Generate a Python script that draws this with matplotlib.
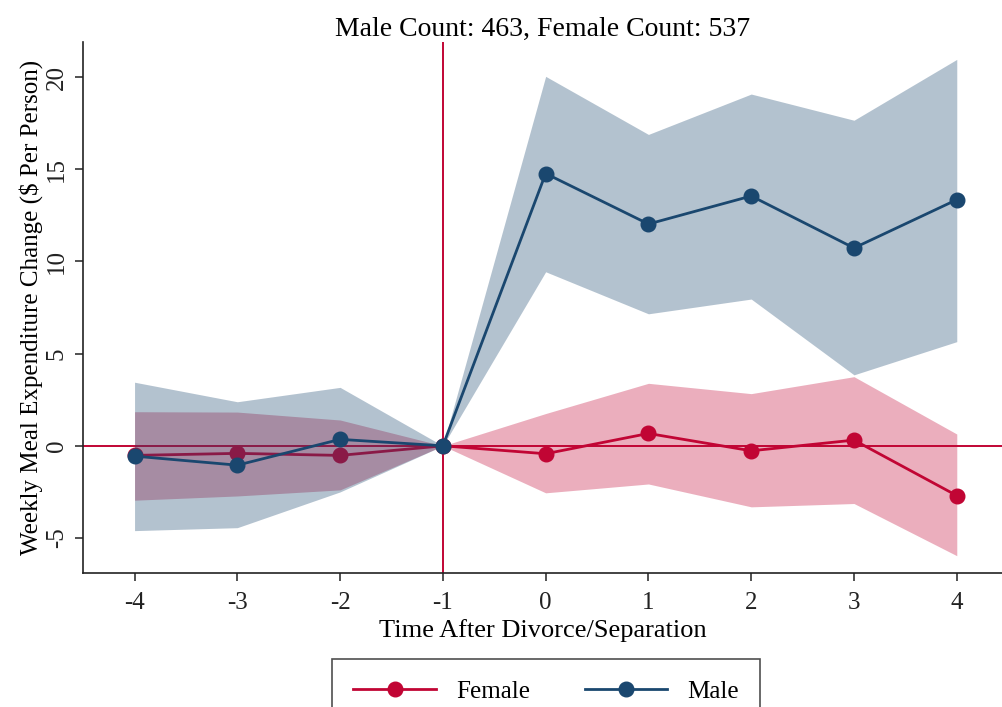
import numpy as np
import matplotlib.pyplot as plt

plt.rcParams['font.family'] = ['Liberation Serif', 'DejaVu Serif']

# event time
t = [-4, -3, -2, -1, 0, 1, 2, 3, 4]

# male estimates and 95% band
male = [-0.56, -1.05, 0.35, 0.0, 14.77, 12.03, 13.55, 10.73, 13.35]
male_hi = [3.45, 2.39, 3.17, 0.0, 20.04, 16.89, 19.08, 17.66, 20.96]
male_lo = [-4.60, -4.44, -2.50, 0.0, 9.44, 7.16, 7.96, 3.85, 5.65]

# female estimates and 95% band
female = [-0.52, -0.41, -0.52, 0.0, -0.43, 0.67, -0.27, 0.31, -2.70]
female_hi = [1.85, 1.83, 1.40, 0.0, 1.75, 3.39, 2.83, 3.75, 0.64]
female_lo = [-2.95, -2.72, -2.39, 0.0, -2.55, -2.07, -3.31, -3.13, -5.96]

navy = '#1a476f'
cranberry = '#c10534'

fig = plt.figure(figsize=(10.02, 7.07), dpi=100)
ax = fig.add_axes([0.083, 0.1895, 0.917, 0.751])

ax.axhline(0, color=cranberry, lw=1.4, zorder=1)
ax.axvline(-1, color=cranberry, lw=1.4, zorder=1)

ax.fill_between(t, female_lo, female_hi, color=cranberry, alpha=0.32, lw=0, zorder=2)
ax.plot(t, female, color=cranberry, lw=2, marker='o', ms=10.5, zorder=3, label='Female')
ax.fill_between(t, male_lo, male_hi, color=navy, alpha=0.33, lw=0, zorder=4)
ax.plot(t, male, color=navy, lw=2, marker='o', ms=10.5, zorder=5, label='Male')

ax.set_xlim(-4.5, 4.44)
ax.set_ylim(-6.9, 21.9)
ax.set_xticks(t)
ax.set_xticklabels([str(v) for v in t])
ax.set_yticks([-5, 0, 5, 10, 15, 20])
ax.set_yticklabels(['-5', '0', '5', '10', '15', '20'], rotation=90, va='center')

for s in ['top', 'right']:
    ax.spines[s].set_visible(False)
for s in ['left', 'bottom']:
    ax.spines[s].set_linewidth(1.2)
    ax.spines[s].set_color('#222222')
ax.tick_params(direction='out', length=6, width=1.1, labelsize=18, colors='#222222')
ax.tick_params(axis='x', pad=8)
ax.tick_params(axis='y', pad=5)

ax.set_xlabel('Time After Divorce/Separation', fontsize=19, labelpad=3)
ax.set_ylabel('Weekly Meal Expenditure Change ($ Per Person)', fontsize=18, labelpad=2)
ax.set_title('Male Count: 463, Female Count: 537', fontsize=20, pad=3)

leg = fig.legend(loc='upper center', bbox_to_anchor=(0.545, 0.068), ncol=2, fontsize=18,
                 frameon=True, fancybox=False, edgecolor='#222222', handlelength=3.3,
                 columnspacing=2.2, borderpad=0.85, borderaxespad=0)
leg.get_frame().set_linewidth(1.2)

fig.savefig('out.png', dpi=100)
